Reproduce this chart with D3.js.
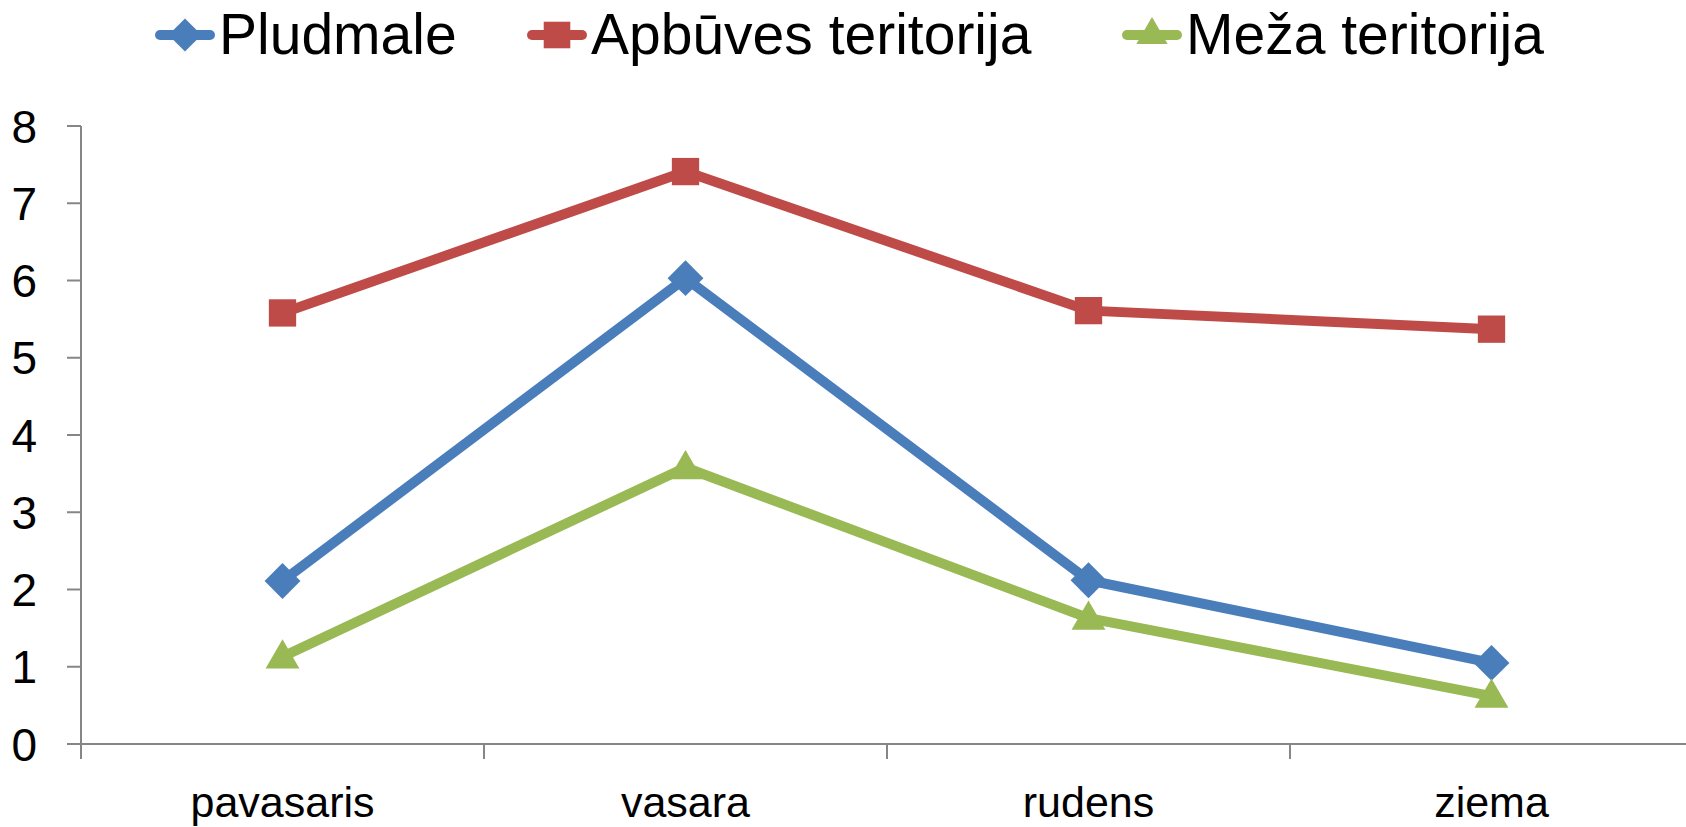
<!DOCTYPE html>
<html>
<head>
<meta charset="utf-8">
<script src="https://cdn.jsdelivr.net/npm/d3@7"></script>
<style>
  body { margin: 0; background: #fff; }
  svg { display: block; font-family: "Liberation Sans", Arial, sans-serif; }
</style>
</head>
<body>
<div id="wrapper"></div>
<script>
// data
const seasons = ['pavasaris', 'vasara', 'rudens', 'ziema'];
const pludmale = [2.11, 6.03, 2.12, 1.05];
const apbuves = [5.58, 7.41, 5.61, 5.37];
const meza = [1.13, 3.58, 1.63, 0.62];
const seriesNames = ['Pludmale', 'Apbūves teritorija', 'Meža teritorija'];
const yTicks = [0, 1, 2, 3, 4, 5, 6, 7, 8];

const colors = ['#4A7EBB', '#BE4B48', '#98B954'];
const shapes = [d3.symbolDiamond2, d3.symbolSquare2, d3.symbolTriangle2];
const series = [pludmale, apbuves, meza].map(function (vals, i) {
    return { name: seriesNames[i], values: vals, color: colors[i], shape: shapes[i] };
});

const width = 1686, height = 827;
const axisColor = '#868686';

const svg = d3.select('#wrapper')
    .append('svg')
    .attr('width', width)
    .attr('height', height);

const x = d3.scaleBand().domain(seasons).range([81, 1693]);
const y = d3.scaleLinear().domain([0, 8]).range([744, 126]);

// y axis
const yAxis = svg.append('g');
yAxis.append('line')
    .attr('x1', 81).attr('x2', 81)
    .attr('y1', y(8)).attr('y2', y(0) + 15)
    .attr('stroke', axisColor).attr('stroke-width', 2);
yAxis.selectAll('.tick')
    .data(yTicks)
    .enter()
    .append('line')
    .attr('x1', 67).attr('x2', 81)
    .attr('y1', function (d) { return y(d) })
    .attr('y2', function (d) { return y(d) })
    .attr('stroke', axisColor).attr('stroke-width', 2);
yAxis.selectAll('text')
    .data(yTicks)
    .enter()
    .append('text')
    .attr('x', 37)
    .attr('y', function (d) { return y(d) + 16.5 })
    .attr('text-anchor', 'end')
    .style('font-size', '46px')
    .text(function (d) { return d });

// x axis
const xAxis = svg.append('g');
xAxis.append('line')
    .attr('x1', 81).attr('x2', width)
    .attr('y1', y(0)).attr('y2', y(0))
    .attr('stroke', axisColor).attr('stroke-width', 2);
xAxis.selectAll('.tick')
    .data(seasons.concat(['end']))
    .enter()
    .append('line')
    .attr('x1', function (d, i) { return x.range()[0] + i * x.step() })
    .attr('x2', function (d, i) { return x.range()[0] + i * x.step() })
    .attr('y1', y(0)).attr('y2', y(0) + 15)
    .attr('stroke', axisColor).attr('stroke-width', 2);
xAxis.selectAll('text')
    .data(seasons)
    .enter()
    .append('text')
    .attr('x', function (d) { return x(d) + x.bandwidth() / 2 })
    .attr('y', 817)
    .attr('text-anchor', 'middle')
    .style('font-size', '43px')
    .text(function (d) { return d });

// lines
const line = d3.line()
    .x(function (d, i) { return x(seasons[i]) + x.bandwidth() / 2 })
    .y(function (d) { return y(d) });

const g = svg.append('g')
    .selectAll('g')
    .data(series)
    .enter()
    .append('g');

g.append('path')
    .attr('d', function (d) { return line(d.values) })
    .attr('fill', 'none')
    .attr('stroke', function (d) { return d.color })
    .attr('stroke-width', 10)
    .attr('stroke-linejoin', 'round');

g.selectAll('path.marker')
    .data(function (d) {
        return d.values.map(function (v, i) { return { v: v, i: i, s: d } });
    })
    .enter()
    .append('path')
    .attr('class', 'marker')
    .attr('d', function (d) { return d3.symbol().type(d.s.shape).size(d.s.shape === d3.symbolSquare2 ? 950 : 820)() })
    .attr('transform', function (d) {
        let dy = d.s.shape === d3.symbolTriangle2 ? 2 : 0;
        return 'translate(' + (x(seasons[d.i]) + x.bandwidth() / 2) + ',' + (y(d.v) + dy) + ')';
    })
    .attr('fill', function (d) { return d.s.color });

// legend
const legendX = [155, 527, 1122];
const legend = svg.append('g')
    .selectAll('g')
    .data(series)
    .enter()
    .append('g')
    .attr('transform', function (d, i) { return 'translate(' + legendX[i] + ',35)' });

legend.append('line')
    .attr('x1', 5).attr('x2', 55)
    .attr('y1', 0).attr('y2', 0)
    .attr('stroke', function (d) { return d.color })
    .attr('stroke-width', 10)
    .attr('stroke-linecap', 'round');
legend.append('path')
    .attr('d', function (d) { return d3.symbol().type(d.shape).size(d.shape === d3.symbolSquare2 ? 900 : 700)() })
    .attr('transform', 'translate(30,0)')
    .attr('fill', function (d) { return d.color });
legend.append('text')
    .attr('x', 64)
    .attr('y', 54 - 35)
    .style('font-size', '57px')
    .text(function (d) { return d.name });
</script>
</body>
</html>
